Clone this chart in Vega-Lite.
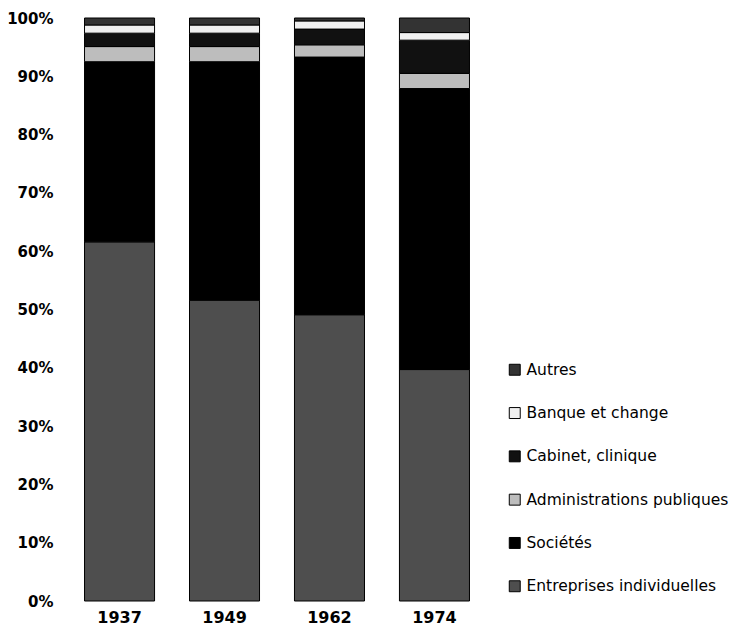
{
  "$schema": "https://vega.github.io/schema/vega-lite/v6.json",
  "autosize": "none",
  "width": 420,
  "height": 583,
  "padding": {"left": 67, "top": 18, "right": 244, "bottom": 33},
  "background": "white",
  "config": {"view": {"stroke": null}, "font": "DejaVu Sans"},
  "data": {"values": [
    {"year": "1937", "cat": "Entreprises individuelles", "rank": 1, "pct": 61.6},
    {"year": "1937", "cat": "Sociétés", "rank": 2, "pct": 30.9},
    {"year": "1937", "cat": "Administrations publiques", "rank": 3, "pct": 2.6},
    {"year": "1937", "cat": "Cabinet, clinique", "rank": 4, "pct": 2.3},
    {"year": "1937", "cat": "Banque et change", "rank": 5, "pct": 1.4},
    {"year": "1937", "cat": "Autres", "rank": 6, "pct": 1.2},
    {"year": "1949", "cat": "Entreprises individuelles", "rank": 1, "pct": 51.6},
    {"year": "1949", "cat": "Sociétés", "rank": 2, "pct": 40.9},
    {"year": "1949", "cat": "Administrations publiques", "rank": 3, "pct": 2.6},
    {"year": "1949", "cat": "Cabinet, clinique", "rank": 4, "pct": 2.3},
    {"year": "1949", "cat": "Banque et change", "rank": 5, "pct": 1.4},
    {"year": "1949", "cat": "Autres", "rank": 6, "pct": 1.2},
    {"year": "1962", "cat": "Entreprises individuelles", "rank": 1, "pct": 49.1},
    {"year": "1962", "cat": "Sociétés", "rank": 2, "pct": 44.2},
    {"year": "1962", "cat": "Administrations publiques", "rank": 3, "pct": 2.1},
    {"year": "1962", "cat": "Cabinet, clinique", "rank": 4, "pct": 2.7},
    {"year": "1962", "cat": "Banque et change", "rank": 5, "pct": 1.4},
    {"year": "1962", "cat": "Autres", "rank": 6, "pct": 0.5},
    {"year": "1974", "cat": "Entreprises individuelles", "rank": 1, "pct": 39.7},
    {"year": "1974", "cat": "Sociétés", "rank": 2, "pct": 48.2},
    {"year": "1974", "cat": "Administrations publiques", "rank": 3, "pct": 2.6},
    {"year": "1974", "cat": "Cabinet, clinique", "rank": 4, "pct": 5.7},
    {"year": "1974", "cat": "Banque et change", "rank": 5, "pct": 1.3},
    {"year": "1974", "cat": "Autres", "rank": 6, "pct": 2.5}
  ]},
  "mark": {"type": "bar", "stroke": "black", "strokeWidth": 1},
  "encoding": {
    "x": {
      "field": "year", "type": "nominal", "title": null,
      "scale": {"paddingInner": 0.333, "paddingOuter": 0.167},
      "axis": {"labelAngle": 0, "domain": false, "ticks": false, "labelPadding": 8, "labelFontSize": 16, "labelFontWeight": "bold", "labelColor": "black"}
    },
    "y": {
      "field": "pct", "type": "quantitative", "stack": "zero", "title": null,
      "scale": {"domain": [0, 100], "nice": false},
      "axis": {"values": [0,10,20,30,40,50,60,70,80,90,100], "labelExpr": "datum.value + '%'", "domain": false, "ticks": false, "grid": false, "labelPadding": 14, "labelFontSize": 15, "labelFontWeight": "bold", "labelColor": "black"}
    },
    "order": {"field": "rank", "type": "quantitative", "sort": "ascending"},
    "color": {
      "field": "cat", "type": "nominal", "title": null,
      "scale": {
        "domain": ["Autres", "Banque et change", "Cabinet, clinique", "Administrations publiques", "Sociétés", "Entreprises individuelles"],
        "range": ["#333333", "#f0f0f0", "#111111", "#bdbdbd", "#000000", "#4e4e4e"]
      },
      "legend": {
        "orient": "none", "legendX": 440, "legendY": 344,
        "symbolType": "square", "symbolSize": 120, "symbolStrokeColor": "black", "symbolStrokeWidth": 1, "symbolOpacity": 1,
        "labelFontSize": 15.5, "labelColor": "black", "labelOffset": 4, "rowPadding": 26.3, "labelLimit": 300
      }
    }
  }
}
